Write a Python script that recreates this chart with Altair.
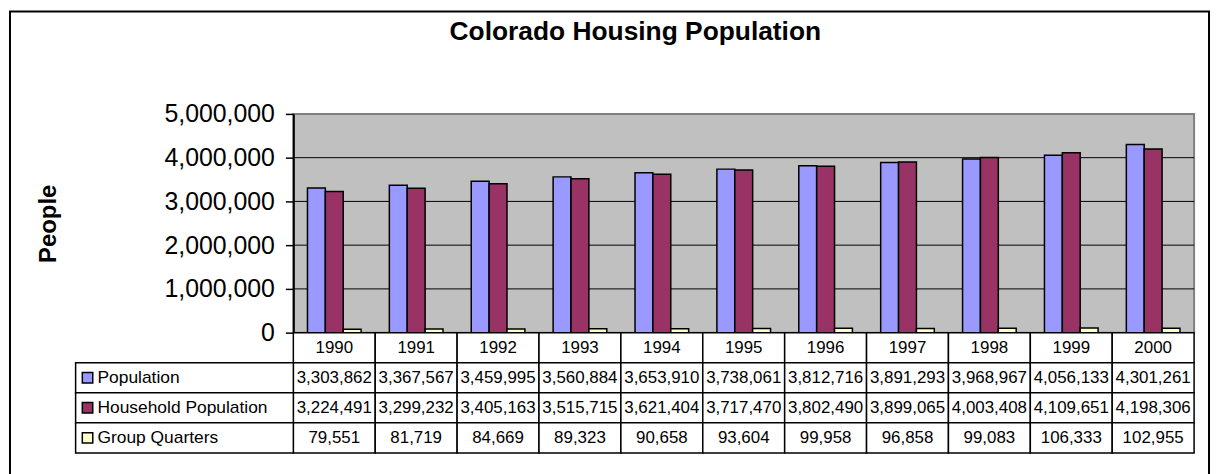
import altair as alt
import pandas as pd

# ---- data ----
years = ["1990", "1991", "1992", "1993", "1994", "1995", "1996", "1997", "1998", "1999", "2000"]
population = [3303862, 3367567, 3459995, 3560884, 3653910, 3738061, 3812716, 3891293, 3968967, 4056133, 4301261]
household_population = [3224491, 3299232, 3405163, 3515715, 3621404, 3717470, 3802490, 3899065, 4003408, 4109651, 4198306]
group_quarters = [79551, 81719, 84669, 89323, 90658, 93604, 99958, 96858, 99083, 106333, 102955]
series_names = ["Population", "Household Population", "Group Quarters"]
series_colors = ["#9999FF", "#993366", "#FFFFCC"]
y_ticks = [0, 1000000, 2000000, 3000000, 4000000, 5000000]
grid_values = [1000000, 2000000, 3000000, 4000000]
chart_title = "Colorado Housing Population"
y_title = "People"
header_key = "Year"

FONT = "Liberation Sans"

rows = []
for name, vals in zip(series_names, [population, household_population, group_quarters]):
    for yr, v in zip(years, vals):
        rows.append({"year": yr, "series": name, "value": v})
long_df = pd.DataFrame(rows)

color_scale = alt.Scale(domain=series_names, range=series_colors)
y_scale = alt.Scale(domain=[0, 5000000])
y_axis = alt.Axis(values=y_ticks, format=",", labelExpr="format(datum.value, ',')", grid=False,
                  labelFont=FONT, labelFontSize=25, labelColor="black", labelPadding=11,
                  tickSize=8, tickColor="black", tickWidth=1.5,
                  domainColor="black", domainWidth=2,
                  title=y_title, titleFont=FONT, titleFontSize=24, titleFontWeight="bold",
                  titleColor="black", titleX=-246, titleY=110, titleAngle=270,
                  titleAlign="center", titleBaseline="middle")

# ---------------- top: bar chart ----------------
border = alt.Chart(pd.DataFrame({"k": [0]})).mark_rect(
    fillOpacity=0, stroke="black", strokeWidth=2
).encode(
    x=alt.value(-285), x2=alt.value(921), y=alt.value(-103), y2=alt.value(420)
)

title = alt.Chart(pd.DataFrame({"t": [chart_title]})).mark_text(
    font=FONT, fontSize=26.5, fontWeight="bold", color="black", align="center", baseline="middle"
).encode(text="t:N", x=alt.value(344), y=alt.value(-82))

grid = alt.Chart(pd.DataFrame({"value": grid_values})).mark_rule(color="black", strokeWidth=1).encode(
    y=alt.Y("value:Q", scale=y_scale, axis=y_axis)
)

bars = alt.Chart(long_df).mark_bar(stroke="black", strokeWidth=1.5).encode(
    x=alt.X("year:N", sort=years, axis=None,
            scale=alt.Scale(paddingInner=0.345, paddingOuter=0.1725)),
    xOffset=alt.XOffset("series:N", sort=series_names, scale=alt.Scale(paddingInner=0, paddingOuter=0)),
    y=alt.Y("value:Q", scale=y_scale, axis=y_axis),
    color=alt.Color("series:N", scale=color_scale, legend=None),
)

top = alt.layer(border, title, grid, bars).properties(
    width=906, height=220,
    view=alt.ViewBackground(fill="#C0C0C0", stroke="#808080", strokeWidth=2),
)

# ---------------- bottom: data table ----------------
row_domain = [header_key] + series_names
x_tab = alt.X("year:N", sort=years, axis=None, scale=alt.Scale(paddingInner=0, paddingOuter=0))
y_tab = alt.Y("row:N", axis=None, scale=alt.Scale(domain=row_domain, paddingInner=0, paddingOuter=0))

cells_df = pd.DataFrame([{"year": yr, "row": r} for r in row_domain for yr in years])
cells = alt.Chart(cells_df).mark_rect(fill="white", stroke="black", strokeWidth=1.5).encode(
    x=x_tab, y=y_tab
)

header_df = pd.DataFrame({"year": years, "row": [header_key] * len(years)})
header_text = alt.Chart(header_df).mark_text(font=FONT, fontSize=17, color="black").encode(
    x=x_tab, y=y_tab, text="year:N"
)

values_df = long_df.rename(columns={"series": "row"})
values_text = alt.Chart(values_df).mark_text(font=FONT, fontSize=17, color="black").encode(
    x=x_tab, y=y_tab, text=alt.Text("value:Q", format=",")
)

labels_df = pd.DataFrame({"row": series_names})
label_cells = alt.Chart(labels_df).mark_rect(fill="white", stroke="black", strokeWidth=1.5).encode(
    x=alt.value(-219), x2=alt.value(0), y=y_tab
)
swatches = alt.Chart(labels_df).mark_square(size=110, stroke="black", strokeWidth=1.5, opacity=1).encode(
    x=alt.value(-207), y=y_tab,
    color=alt.Color("row:N", scale=color_scale, legend=None),
)
label_text = alt.Chart(labels_df).mark_text(font=FONT, fontSize=17.5, color="black", align="left").encode(
    x=alt.value(-197), y=y_tab, text="row:N"
)

bottom = alt.layer(cells, header_text, values_text, label_cells, swatches, label_text).properties(
    width=906, height=121
)

chart = alt.vconcat(top, bottom, spacing=0, bounds="flush").resolve_scale(
    x="independent", y="independent"
).properties(padding=0).configure_view(strokeWidth=0)

chart.save("out.html", embed_options={"renderer": "svg", "actions": False})
